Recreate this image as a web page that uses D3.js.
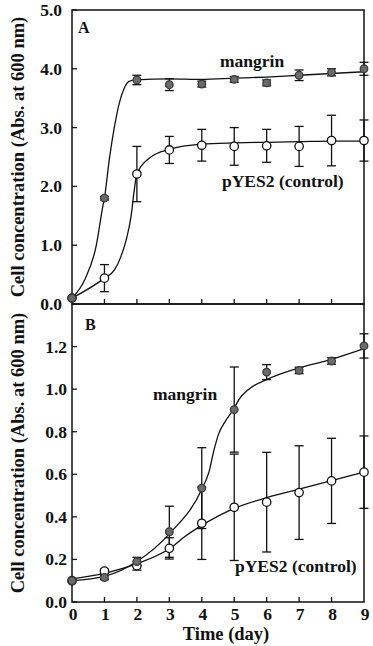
<!DOCTYPE html>
<html>
<head>
<meta charset="utf-8">
<script src="https://cdn.jsdelivr.net/npm/d3@7"></script>
<style>
  body { margin: 0; background: #fff; }
  text { font-family: "Liberation Serif", "Times New Roman", serif; font-weight: bold; fill: #111; }
</style>
</head>
<body>
<script>
// growth curves: mangrin vs pYES2 control, two media (A and B)
const days = [0, 1, 2, 3, 4, 5, 6, 7, 8, 9];

// panel A measurements
const mangrinA    = [0.1, 1.80, 3.81, 3.73, 3.74, 3.82, 3.76, 3.89, 3.94, 4.00];
const mangrinAErr = [0, 0.03, 0.08, 0.10, 0.05, 0.05, 0.05, 0.09, 0.06, 0.11];
const controlA    = [0.1, 0.44, 2.21, 2.62, 2.70, 2.68, 2.69, 2.68, 2.78, 2.78];
const controlAErr = [0, 0.23, 0.47, 0.23, 0.27, 0.32, 0.28, 0.34, 0.43, 0.35];

// panel A fitted lines
const mangrinAFitX = [0, 0.4, 0.75, 0.95, 1, 1.15, 1.31, 1.46, 1.61, 1.77, 1.98, 3, 4, 5, 6, 7, 8, 9];
const mangrinAFitY = [0.1, 0.42, 1.0, 1.66, 1.8, 2.46, 3.02, 3.42, 3.67, 3.79, 3.81, 3.83, 3.82, 3.84, 3.86, 3.89, 3.92, 3.95];
const controlAFitX = [0, 1, 1.31, 1.51, 1.67, 1.82, 1.92, 2, 2.38, 3, 4, 5, 6, 7, 8, 9];
const controlAFitY = [0.1, 0.44, 0.58, 0.81, 1.09, 1.49, 1.94, 2.21, 2.48, 2.63, 2.72, 2.74, 2.75, 2.76, 2.77, 2.77];

// panel B measurements
const mangrinB    = [0.10, 0.115, 0.19, 0.33, 0.535, 0.904, 1.08, 1.088, 1.132, 1.203];
const mangrinBErr = [0, 0.01, 0.02, 0.12, 0.19, 0.20, 0.035, 0.015, 0.015, 0.057];
const controlB    = [0.10, 0.145, 0.17, 0.252, 0.37, 0.445, 0.469, 0.514, 0.569, 0.61];
const controlBErr = [0, 0.01, 0.02, 0.05, 0.17, 0.25, 0.234, 0.22, 0.20, 0.17];

// panel B fitted lines
const mangrinBFitX = [0, 1, 2, 3, 4, 4.22, 4.37, 4.52, 4.73, 5, 5.14, 5.45, 6, 7, 8, 9];
const mangrinBFitY = [0.1, 0.12, 0.19, 0.32, 0.53, 0.61, 0.71, 0.79, 0.85, 0.91, 0.95, 1.0, 1.045, 1.10, 1.14, 1.19];
const controlBFitX = [0, 1, 2, 3, 3.5, 4, 5, 6, 7, 8, 9];
const controlBFitY = [0.11, 0.135, 0.18, 0.25, 0.31, 0.36, 0.44, 0.49, 0.53, 0.57, 0.61];

const ticksA = [0, 1, 2, 3, 4, 5];
const ticksB = [0, 0.2, 0.4, 0.6, 0.8, 1.0, 1.2];
const yTitle = 'Cell concentration (Abs. at 600 nm)';

const width = 373, height = 646;
const svg = d3.select('body').append('svg')
    .attr('width', width)
    .attr('height', height);

const x = d3.scaleLinear().domain([0, 9]).range([72, 364]);
const yA = d3.scaleLinear().domain([0, 5]).range([304, 10]);
const yB = d3.scaleLinear().domain([0, 1.4]).range([602, 304]);

// draws one panel: frame, ticks, error bars, fits, points
function drawPanel(y, cfg) {
  const g = svg.append('g');
  const [y0, y1] = y.range();

  // frame
  g.append('rect')
      .attr('x', x(0)).attr('y', y1)
      .attr('width', x(9) - x(0)).attr('height', y0 - y1)
      .attr('fill', 'none').attr('stroke', '#111').attr('stroke-width', 1.5);

  // inward ticks on the bottom and left
  g.selectAll('.xt').data(days.slice(1, 9)).enter().append('line')
      .attr('x1', d => x(d)).attr('x2', d => x(d))
      .attr('y1', y0).attr('y2', y0 - 5)
      .attr('stroke', '#111').attr('stroke-width', 1.3);
  g.selectAll('.yt').data(cfg.ticks).enter().append('line')
      .attr('x1', x(0)).attr('x2', x(0) + 5)
      .attr('y1', d => y(d)).attr('y2', d => y(d))
      .attr('stroke', '#111').attr('stroke-width', 1.3);

  g.selectAll('.yl').data(cfg.ticks).enter().append('text')
      .attr('x', cfg.labelX).attr('y', d => y(d) + 6)
      .attr('text-anchor', 'end')
      .style('font-size', '17.5px')
      .text(d => d.toFixed(1));

  g.append('text')
      .attr('transform', `translate(18,${(y0 + y1) / 2}) rotate(-90)`)
      .attr('text-anchor', 'middle')
      .attr('dominant-baseline', 'central')
      .style('font-size', '18.5px')
      .text(yTitle);

  const line = d3.line()
      .x(d => x(d[0])).y(d => y(d[1]))
      .curve(d3.curveMonotoneX);

  cfg.series.forEach(s => {
    // error bars
    days.forEach((d, i) => {
      const e = s.err[i];
      if (!e) return;
      const bar = g.append('g').attr('stroke', '#111').attr('stroke-width', 1.3);
      bar.append('line').attr('x1', x(d)).attr('x2', x(d))
          .attr('y1', y(s.vals[i] - e)).attr('y2', y(s.vals[i] + e));
      [-e, e].forEach(k => {
        bar.append('line').attr('x1', x(d) - 4.5).attr('x2', x(d) + 4.5)
            .attr('y1', y(s.vals[i] + k)).attr('y2', y(s.vals[i] + k));
      });
    });
    // fitted curve
    g.append('path')
        .datum(d3.zip(s.fitX, s.fitY))
        .attr('d', line)
        .attr('fill', 'none').attr('stroke', '#111').attr('stroke-width', 1.3);
  });

  cfg.series.forEach(s => {
    g.selectAll(null).data(days).enter().append('circle')
        .attr('cx', d => x(d)).attr('cy', (d, i) => y(s.vals[i]))
        .attr('r', s.filled ? 3.8 : 4.2)
        .attr('fill', s.filled ? '#6b6b6b' : '#fff')
        .attr('stroke', s.filled ? '#3a3a3a' : '#111')
        .attr('stroke-width', 1.3);
  });

  cfg.labels.forEach(l => {
    g.append('text').attr('x', l.x).attr('y', l.y)
        .style('font-size', l.size + 'px').text(l.t);
  });
}

drawPanel(yA, {
  ticks: ticksA,
  labelX: 62,
  series: [
    { vals: controlA, err: controlAErr, fitX: controlAFitX, fitY: controlAFitY, filled: false },
    { vals: mangrinA, err: mangrinAErr, fitX: mangrinAFitX, fitY: mangrinAFitY, filled: true }
  ],
  labels: [
    { t: 'A', x: 78, y: 33, size: 16 },
    { t: 'mangrin', x: 220, y: 67, size: 17.5 },
    { t: 'pYES2 (control)', x: 222, y: 187, size: 17.5 }
  ]
});

drawPanel(yB, {
  ticks: ticksB,
  labelX: 67,
  series: [
    { vals: controlB, err: controlBErr, fitX: controlBFitX, fitY: controlBFitY, filled: false },
    { vals: mangrinB, err: mangrinBErr, fitX: mangrinBFitX, fitY: mangrinBFitY, filled: true }
  ],
  labels: [
    { t: 'B', x: 85, y: 330, size: 16 },
    { t: 'mangrin', x: 153, y: 400, size: 17.5 },
    { t: 'pYES2 (control)', x: 235, y: 572, size: 17.5 }
  ]
});

// x axis labels under panel B
svg.selectAll('.xl').data(days).enter().append('text')
    .attr('x', d => x(d) + 1).attr('y', 620)
    .attr('text-anchor', 'middle')
    .style('font-size', '17.5px')
    .text(d => d);

svg.append('text')
    .attr('x', 226).attr('y', 640)
    .attr('text-anchor', 'middle')
    .style('font-size', '18.5px')
    .text('Time (day)');
</script>
</body>
</html>
